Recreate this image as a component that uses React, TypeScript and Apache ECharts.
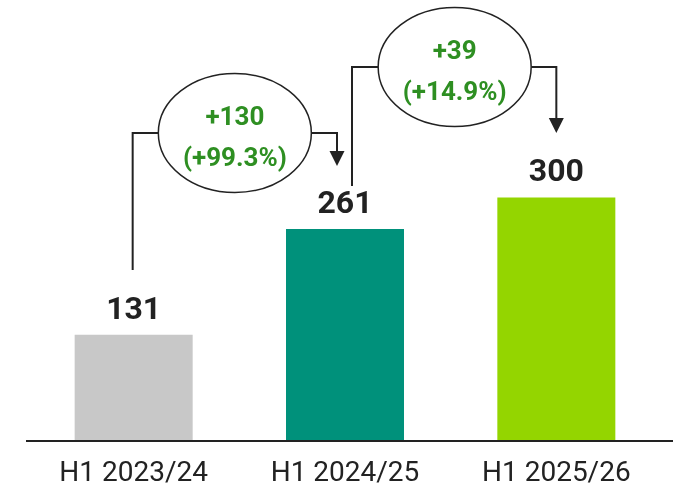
import React, { useEffect, useRef } from "react";
import * as echarts from "echarts";

const categories = ["H1 2023/24", "H1 2024/25", "H1 2025/26"];
const values = [131, 261, 300];
const barColors = ["#c8c8c8", "#00917b", "#94d500"];
const deltaAbs = ["+130", "+39"];
const deltaPct = ["(+99.3%)", "(+14.9%)"];

const INK = "#222222";
const GREEN = "#2e8f22";
const FONT = "Roboto, 'Noto Sans', sans-serif";

export default function App() {
  const ref = useRef<HTMLDivElement>(null);
  useEffect(() => {
    if (!ref.current) return;
    const chart = echarts.init(ref.current, undefined, { renderer: "svg" });
    chart.setOption({
      animation: false,
      grid: { left: 28, right: 12, top: 35, bottom: 51 },
      xAxis: {
        type: "category",
        data: categories,
        axisLine: { show: false },
        axisTick: { show: false },
        axisLabel: { fontSize: 28, color: INK, margin: 16, fontFamily: FONT },
      },
      yAxis: { type: "value", min: 0, max: 500, show: false, splitLine: { show: false } },
      series: [
        {
          type: "bar",
          barWidth: 118,
          data: values.map((v, i) => ({ value: v, itemStyle: { color: barColors[i] } })),
          label: {
            show: true,
            position: "top",
            distance: 11,
            fontSize: 32,
            fontWeight: "bold",
            color: INK,
            fontFamily: FONT,
          },
        },
      ],
    });

    const px = (i: number, v: number) =>
      chart.convertToPixel({ gridIndex: 0 }, [i, v]) as number[];
    const c0 = px(0, 0)[0];
    const c1 = px(1, 0)[0];
    const c2 = px(2, 0)[0];
    const base = px(0, 0)[1];

    const lineStyle = { stroke: INK, lineWidth: 2, fill: null };
    const ellipseStyle = { stroke: INK, lineWidth: 1.5, fill: "#ffffff" };
    const textStyle = (t: string, x: number, y: number) => ({
      type: "text",
      x,
      y,
      z: 20,
      style: {
        text: t,
        fill: GREEN,
        fontSize: 26,
        fontWeight: "bold",
        fontFamily: FONT,
        align: "center",
        verticalAlign: "middle",
      },
    });

    const connector = (
      xStart: number,
      yStart: number,
      cx: number,
      cy: number,
      xEnd: number,
      yTip: number,
      idx: number
    ) => {
      const rx = 76.5;
      const ry = 59.5;
      return [
        {
          type: "polyline",
          z: 10,
          shape: { points: [[xStart, yStart], [xStart, cy], [cx - rx, cy]] },
          style: lineStyle,
        },
        {
          type: "polyline",
          z: 10,
          shape: { points: [[cx + rx, cy], [xEnd, cy], [xEnd, yTip - 14]] },
          style: lineStyle,
        },
        {
          type: "polygon",
          z: 10,
          shape: { points: [[xEnd - 7.5, yTip - 15], [xEnd + 7.5, yTip - 15], [xEnd, yTip]] },
          style: { fill: INK },
        },
        {
          type: "ellipse",
          z: 11,
          shape: { cx, cy, rx, ry },
          style: ellipseStyle,
        },
        textStyle(deltaAbs[idx], cx, cy - 17),
        textStyle(deltaPct[idx], cx, cy + 24),
      ];
    };

    chart.setOption({
      graphic: [
        {
          type: "line",
          z: 5,
          shape: { x1: 26, y1: base, x2: 673, y2: base },
          style: { stroke: INK, lineWidth: 2 },
        },
        ...connector(c0 - 1, 270, (c0 + c1) / 2 - 4.5, 133, c1 - 8, 166, 0),
        ...connector(c1 + 7, 186, (c1 + c2) / 2 + 4, 67, c2, 133, 1),
      ],
    });

    return () => chart.dispose();
  }, []);

  return (
    <div
      ref={ref}
      style={{ position: "fixed", left: 0, top: 0, width: 674, height: 492 }}
    />
  );
}
